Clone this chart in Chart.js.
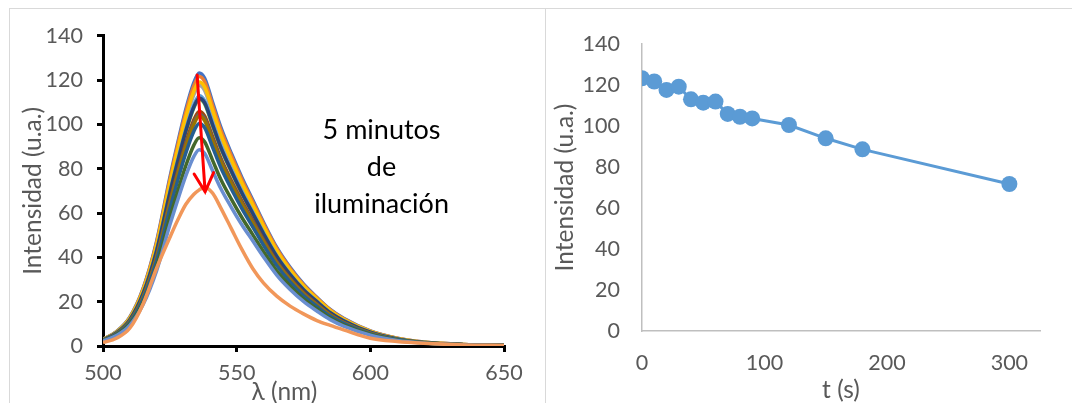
<!DOCTYPE html>
<html>
<head>
<meta charset="utf-8">
<script src="https://cdn.jsdelivr.net/npm/chart.js@4/dist/chart.umd.min.js"></script>
<style>
  html, body { margin: 0; padding: 0; background: #fff; }
  body { width: 1072px; height: 403px; position: relative; overflow: hidden; }
  .panel { position: absolute; top: 8px; height: 395px; box-sizing: border-box;
           border-top: 1px solid #d9d9d9; border-left: 1px solid #d9d9d9; }
  #leftBox { left: 9px; width: 536px; }
  #rightBox { left: 545px; width: 527px; }
</style>
</head>
<body>
<div class="panel" id="leftBox"><canvas id="spectra"></canvas></div>
<div class="panel" id="rightBox"><canvas id="decay"></canvas></div>
<script>
// wavelengths (nm) shared by all spectra
const lambda = [500, 505, 510, 515, 520, 525, 528, 531, 534, 536, 538, 541, 544, 548,
                552, 556, 560, 565, 570, 575, 580, 585, 590, 600, 610, 620, 635, 650];

const spec0   = [3, 6.5, 13, 26, 47, 76, 92, 107, 119, 123.3, 121, 110, 99, 87, 76, 66, 56, 44.5, 35.5, 28, 22, 16.5, 12.5, 6.8, 3.5, 1.8, 0.7, 0.3];
const spec10  = [3, 6.4, 12.8, 25.7, 46.4, 75, 90.8, 105.6, 117.5, 121.7, 119.4, 108.6, 97.7, 85.9, 75, 65.1, 55.3, 43.9, 35, 27.6, 21.7, 16.3, 12.3, 6.7, 3.5, 1.8, 0.7, 0.3];
const spec20  = [2.9, 6.2, 12.4, 24.8, 44.8, 72.5, 87.8, 102.1, 113.5, 117.6, 115.4, 104.9, 94.4, 83, 72.5, 63, 53.4, 42.5, 33.9, 26.7, 21, 15.7, 11.9, 6.5, 3.3, 1.7, 0.7, 0.3];
const spec30  = [2.9, 6.3, 12.6, 25.1, 45.4, 73.5, 89, 103.5, 115.1, 119.2, 117, 106.4, 95.7, 84.1, 73.5, 63.8, 54.2, 43, 34.3, 27.1, 21.3, 16, 12.1, 6.6, 3.4, 1.7, 0.7, 0.3];
const spec40  = [2.7, 6, 11.9, 23.8, 43.1, 69.6, 84.3, 98, 109, 113, 110.8, 100.8, 90.7, 79.7, 69.6, 60.5, 51.3, 40.8, 32.5, 25.6, 20.2, 15.1, 11.5, 6.2, 3.2, 1.6, 0.6, 0.3];
const spec50  = [2.7, 5.9, 11.7, 23.5, 42.4, 68.6, 83.1, 96.6, 107.5, 111.4, 109.3, 99.3, 89.4, 78.6, 68.6, 59.6, 50.6, 40.2, 32.1, 25.3, 19.9, 14.9, 11.3, 6.1, 3.2, 1.6, 0.6, 0.3];
const spec60  = [2.7, 5.9, 11.8, 23.6, 42.7, 69, 83.5, 97.2, 108, 111.9, 109.9, 99.9, 89.9, 79, 69, 59.9, 50.8, 40.4, 32.2, 25.4, 20, 15, 11.4, 6.2, 3.2, 1.6, 0.6, 0.3];
const spec70  = [2.6, 5.6, 11.2, 22.3, 40.4, 65.3, 79, 91.9, 102.2, 105.9, 103.9, 94.5, 85, 74.7, 65.3, 56.7, 48.1, 38.2, 30.5, 24.1, 18.9, 14.2, 10.7, 5.8, 3, 1.5, 0.6, 0.3];
const spec80  = [2.5, 5.5, 11, 22, 39.9, 64.4, 78, 90.7, 100.9, 104.5, 102.6, 93.3, 84, 73.8, 64.4, 56, 47.5, 37.7, 30.1, 23.7, 18.7, 14, 10.6, 5.8, 3, 1.5, 0.6, 0.3];
const spec90  = [2.5, 5.5, 10.9, 21.9, 39.5, 63.9, 77.4, 90, 100.1, 103.7, 101.8, 92.5, 83.3, 73.2, 63.9, 55.5, 47.1, 37.4, 29.9, 23.5, 18.5, 13.9, 10.5, 5.7, 2.9, 1.5, 0.6, 0.3];
const spec120 = [2.4, 5.3, 10.6, 21.2, 38.3, 61.9, 75, 87.2, 97, 100.5, 98.6, 89.7, 80.7, 70.9, 61.9, 53.8, 45.6, 36.3, 28.9, 22.8, 17.9, 13.4, 10.2, 5.5, 2.9, 1.5, 0.6, 0.2];
const spec150 = [2.3, 5, 9.9, 19.8, 35.8, 57.9, 70.1, 81.5, 90.7, 94, 92.2, 83.8, 75.4, 66.3, 57.9, 50.3, 42.7, 33.9, 27.1, 21.3, 16.8, 12.6, 9.5, 5.2, 2.7, 1.4, 0.5, 0.2];
const spec180 = [2.2, 4.7, 9.3, 18.7, 33.8, 54.6, 66.1, 76.9, 85.6, 88.6, 87, 79.1, 71.2, 62.6, 54.6, 47.5, 40.3, 32, 25.5, 20.1, 15.8, 11.9, 9, 4.9, 2.5, 1.3, 0.5, 0.2];
const spec300 = [1.5, 3.5, 8, 19, 35, 49, 57, 64, 68.5, 70.5, 71.7, 69, 62.5, 53, 43.5, 35, 28.5, 22.5, 18, 14.5, 11.5, 9.3, 7.3, 3.5, 2, 1.2, 0.5, 0.2];

const spectra = [spec0, spec10, spec20, spec30, spec40, spec50, spec60, spec70,
                 spec80, spec90, spec120, spec150, spec180, spec300];

// peak intensity vs illumination time (right plot)
const times = [0, 10, 20, 30, 40, 50, 60, 70, 80, 90, 120, 150, 180, 300];
const peakIntensity = [123.3, 121.7, 117.6, 119.2, 113, 111.4, 111.9, 105.9, 104.5, 103.7, 100.5, 94, 88.6, 71.7];

const yTicks = [0, 20, 40, 60, 80, 100, 120, 140];
const lambdaTicks = [500, 550, 600, 650];
const timeTicks = [0, 100, 200, 300];

// red arrow (data units) and the note next to it
const arrowFrom = [535.2, 122.4];
const arrowTo = [538.2, 69.6];
const noteLines = ["5 minutos", "de", "iluminación"];

const excelColors = ["#4472C4", "#ED7D31", "#A5A5A5", "#FFC000", "#5B9BD5", "#70AD47", "#264478",
                     "#9E480E", "#636363", "#997300", "#255E91", "#43682B", "#698ED0", "#F1975A"];
const FONT = "Lato";
const GREY = "#595959";
const TICK = 21.5, TITLE = 24.5;

Chart.defaults.font.family = FONT;
Chart.defaults.color = GREY;

// arrow, note and the (off-centre) x title of the spectra panel
const arrowPlugin = {
  id: "arrowNote",
  afterDatasetsDraw(chart) {
    const { ctx, scales, chartArea } = chart;
    const x = scales.x, y = scales.y;
    const x0 = x.getPixelForValue(arrowFrom[0]), y0 = y.getPixelForValue(arrowFrom[1]);
    const x1 = x.getPixelForValue(arrowTo[0]), y1 = y.getPixelForValue(arrowTo[1]);
    const ang = Math.atan2(y1 - y0, x1 - x0);
    const head = 21, spread = Math.PI / 6.5;
    ctx.save();
    ctx.strokeStyle = "#ff0000";
    ctx.lineWidth = 3;
    ctx.lineCap = "round";
    ctx.beginPath();
    ctx.moveTo(x0, y0);
    ctx.lineTo(x1, y1);
    ctx.moveTo(x1 - head * Math.cos(ang - spread), y1 - head * Math.sin(ang - spread));
    ctx.lineTo(x1, y1);
    ctx.lineTo(x1 - head * Math.cos(ang + spread), y1 - head * Math.sin(ang + spread));
    ctx.stroke();

    ctx.fillStyle = "#000";
    ctx.font = "27px " + FONT;
    ctx.textAlign = "center";
    ctx.textBaseline = "middle";
    const cx = x.getPixelForValue(604.2);
    [97.4, 80.8, 63.8].forEach((v, i) => {
      ctx.fillText(noteLines[i], cx, y.getPixelForValue(v));
    });

    ctx.fillStyle = GREY;
    ctx.font = TITLE + "px " + FONT;
    ctx.fillText("λ (nm)", (chartArea.left + chartArea.right) / 2 - 19, chart.height - 11);
    ctx.restore();
  }
};

new Chart(document.getElementById("spectra"), {
  type: "line",
  data: {
    datasets: spectra.map((s, i) => ({
      label: times[i] + " s",
      data: lambda.map((l, j) => ({ x: l, y: s[j] })),
      borderColor: excelColors[i],
      borderWidth: 3.5,
      pointRadius: 0,
      cubicInterpolationMode: "monotone",
      order: spectra.length - i,
    })),
  },
  options: {
    responsive: true,
    maintainAspectRatio: false,
    animation: false,
    layout: { padding: { left: 0, top: 24, right: 41, bottom: 0 } },
    plugins: { legend: { display: false }, tooltip: { enabled: false } },
    scales: {
      x: {
        type: "linear",
        min: 500,
        max: 650,
        afterBuildTicks: (s) => { s.ticks = lambdaTicks.map((v) => ({ value: v })); },
        afterFit: (s) => { s.height = 57; },
        ticks: { font: { size: TICK }, padding: 8, maxRotation: 0 },
        grid: { drawOnChartArea: false, drawTicks: true, tickLength: 6, color: "#000", lineWidth: 3 },
        border: { color: "#000", width: 3 },
      },
      y: {
        min: 0,
        max: 140,
        afterBuildTicks: (s) => { s.ticks = yTicks.map((v) => ({ value: v })); },
        afterFit: (s) => { s.width = 93; },
        ticks: { font: { size: TICK }, padding: 14 },
        grid: { drawOnChartArea: false, drawTicks: true, tickLength: 6, color: "#000", lineWidth: 3 },
        border: { color: "#000", width: 3 },
        title: { display: true, text: "Intensidad (u.a.)", font: { size: TITLE }, padding: { top: 8, bottom: 0 }, color: GREY },
      },
    },
  },
  plugins: [arrowPlugin],
});

new Chart(document.getElementById("decay"), {
  type: "line",
  data: {
    datasets: [{
      label: "Intensidad",
      data: times.map((t, i) => ({ x: t, y: peakIntensity[i] })),
      borderColor: "#5B9BD5",
      backgroundColor: "#5B9BD5",
      borderWidth: 3,
      pointRadius: 8,
      pointBorderWidth: 0,
      tension: 0,
    }],
  },
  options: {
    responsive: true,
    maintainAspectRatio: false,
    animation: false,
    layout: { padding: { left: 0, top: 35, right: 32, bottom: 0 } },
    plugins: { legend: { display: false }, tooltip: { enabled: false } },
    scales: {
      x: {
        type: "linear",
        min: 0,
        max: 325,
        afterBuildTicks: (s) => { s.ticks = timeTicks.map((v) => ({ value: v })); },
        afterFit: (s) => { s.height = 72; },
        ticks: { font: { size: TICK }, padding: 11, maxRotation: 0 },
        grid: { display: false },
        border: { color: "#bfbfbf", width: 1.5 },
        title: { display: true, text: "t (s)", font: { size: TITLE, lineHeight: 1.05 }, padding: 0, color: GREY },
      },
      y: {
        min: 0,
        max: 140,
        afterBuildTicks: (s) => { s.ticks = yTicks.map((v) => ({ value: v })); },
        afterFit: (s) => { s.width = 96; },
        ticks: { font: { size: TICK }, padding: 14 },
        grid: { display: false },
        border: { color: "#bfbfbf", width: 1.5 },
        title: { display: true, text: "Intensidad (u.a.)", font: { size: TITLE }, padding: { top: 4, bottom: 0 }, color: GREY },
      },
    },
  },
});
</script>
</body>
</html>
